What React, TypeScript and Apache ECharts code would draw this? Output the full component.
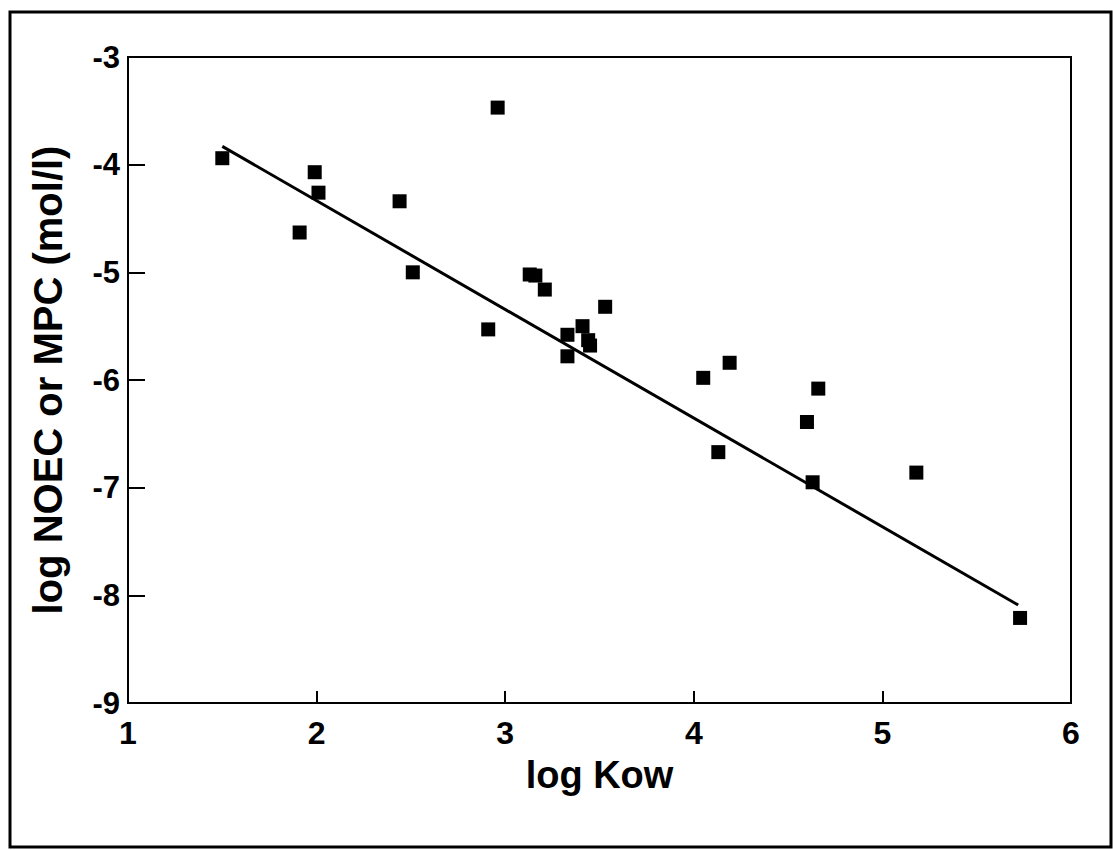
import React, { useEffect, useRef } from "react";
import * as echarts from "echarts";

const logKow: number[] = [
  1.50, 1.91, 1.99, 2.01, 2.44, 2.51, 2.91, 2.96, 3.13, 3.16, 3.21, 3.33, 3.33,
  3.41, 3.44, 3.45, 3.53, 4.05, 4.13, 4.19, 4.60, 4.63, 4.66, 5.18, 5.73,
];
const logNoec: number[] = [
  -3.94, -4.63, -4.07, -4.26, -4.34, -5.00, -5.53, -3.47, -5.02, -5.03, -5.16, -5.58, -5.78,
  -5.50, -5.63, -5.68, -5.32, -5.98, -6.67, -5.84, -6.39, -6.95, -6.08, -6.86, -8.21,
];
const fitX: number[] = [1.5, 5.72];
const fitY: number[] = [-3.83, -8.09];

const xTitle = "log Kow";
const yTitle = "log NOEC or MPC (mol/l)";

export default function App() {
  const ref = useRef<HTMLDivElement>(null);
  useEffect(() => {
    if (!ref.current) return;
    const chart = echarts.init(ref.current, null, { renderer: "svg" });
    const font = "'Liberation Sans', Arial, Helvetica, sans-serif";
    chart.setOption({
      animation: false,
      backgroundColor: "#ffffff",
      grid: {
        left: 128,
        top: 57,
        right: 42,
        bottom: 147,
        show: true,
        borderColor: "#000",
        borderWidth: 2,
        backgroundColor: "transparent",
      },
      xAxis: {
        type: "value",
        min: 1,
        max: 6,
        interval: 1,
        name: xTitle,
        nameLocation: "middle",
        nameGap: 53,
        nameTextStyle: { fontFamily: font, fontWeight: "bold", fontSize: 38, color: "#000" },
        axisLine: { lineStyle: { color: "#000", width: 2 } },
        axisTick: { inside: true, length: 12, lineStyle: { color: "#000", width: 2 } },
        axisLabel: { margin: 14, fontFamily: font, fontWeight: "bold", fontSize: 32, color: "#000" },
        splitLine: { show: false },
      },
      yAxis: {
        type: "value",
        min: -9,
        max: -3,
        interval: 1,
        name: yTitle,
        nameLocation: "middle",
        nameGap: 60,
        nameRotate: 90,
        nameTextStyle: { fontFamily: font, fontWeight: "bold", fontSize: 40, color: "#000" },
        axisLine: { lineStyle: { color: "#000", width: 2 } },
        axisTick: { inside: true, length: 17, lineStyle: { color: "#000", width: 2 } },
        axisLabel: { margin: 8, fontFamily: font, fontWeight: "bold", fontSize: 31, color: "#000" },
        splitLine: { show: false },
      },
      series: [
        {
          type: "line",
          data: fitX.map((x, i) => [x, fitY[i]]),
          showSymbol: false,
          symbol: "none",
          lineStyle: { color: "#000", width: 3 },
          z: 2,
        },
        {
          type: "scatter",
          data: logKow.map((x, i) => [x, logNoec[i]]),
          symbol: "rect",
          symbolSize: 14,
          itemStyle: { color: "#000", opacity: 1 },
          z: 3,
        },
      ],
      graphic: [
        {
          type: "rect",
          shape: { x: 10, y: 12, width: 1101, height: 835 },
          style: { fill: "none", stroke: "#000", lineWidth: 3 },
          silent: true,
        },
      ],
    });
    return () => chart.dispose();
  }, []);
  return (
    <div
      ref={ref}
      style={{ position: "fixed", left: 0, top: 0, width: 1113, height: 850 }}
    />
  );
}
